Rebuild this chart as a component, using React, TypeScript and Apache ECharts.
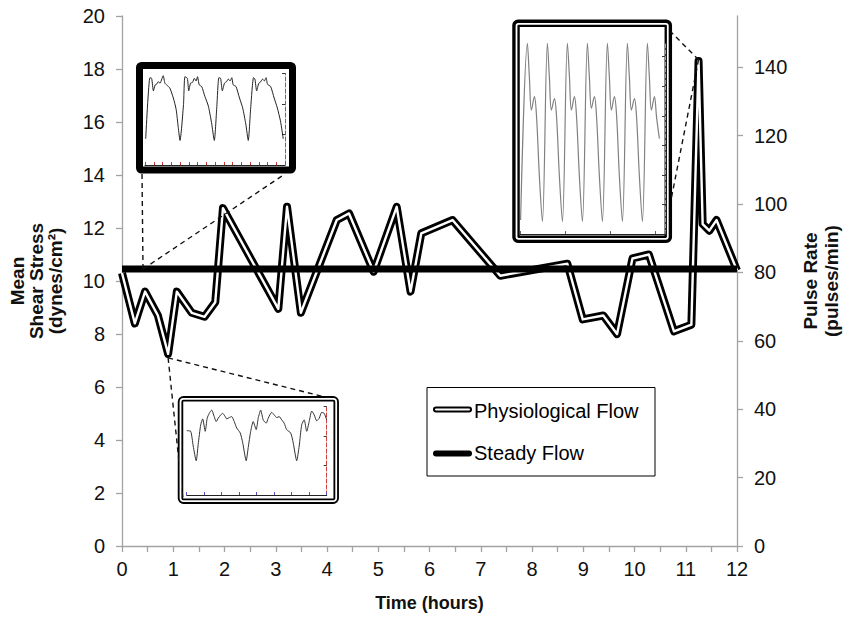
import { useEffect, useRef } from "react";
import * as echarts from "echarts";

// ---- Main chart data ----
const hours = [0, 0.25, 0.45, 0.7, 0.9, 1.07, 1.36, 1.61, 1.82, 1.97, 3.05, 3.22, 3.49, 4.19, 4.43, 4.91, 5.36, 5.63, 5.84, 6.45, 7.38, 8.69, 8.99, 9.39, 9.66, 9.96, 10.28, 10.77, 11.11, 11.25, 11.33, 11.46, 11.6, 12];
const physioShear = [10.3, 8.4, 9.6, 8.7, 7.25, 9.6, 8.8, 8.65, 9.2, 12.75, 8.95, 12.8, 8.8, 12.3, 12.55, 10.35, 12.8, 9.6, 11.8, 12.3, 10.2, 10.65, 8.55, 8.7, 8.0, 10.85, 11.0, 8.1, 8.35, 18.3, 12.15, 11.9, 12.3, 10.4];
const steadyHours = [0, 12];
const steadyShear = [10.45, 10.45];
const pulseTicks = [0, 20, 40, 60, 80, 100, 120, 140];

// ---- Inset waveforms ----
const inset1Time = [0.02, 0.14, 0.19, 0.24, 0.29, 0.33, 0.38, 0.43, 0.48, 0.52, 0.57, 0.62, 0.71, 0.81, 0.89, 0.95, 1.0, 1.1, 1.14, 1.21, 1.25, 1.3, 1.36, 1.41, 1.46, 1.5, 1.55, 1.62, 1.71, 1.81, 1.9, 1.98, 2.05, 2.11, 2.16, 2.21, 2.27, 2.33, 2.38, 2.43, 2.48, 2.52, 2.6, 2.7, 2.79, 2.88, 2.95, 3.02, 3.1, 3.14, 3.19, 3.25, 3.31, 3.36, 3.41, 3.46, 3.5, 3.59, 3.69, 3.78, 3.87, 3.95];
const inset1Signal = [29.1, 97.1, 96.4, 82.5, 89.1, 89.8, 92.7, 90.9, 95.6, 99.3, 90.9, 89.1, 85.5, 74.5, 61.8, 41.8, 27.3, 67.3, 98.2, 96.4, 82.5, 90.9, 92.0, 96.4, 93.5, 98.2, 89.1, 87.3, 76.4, 65.5, 47.3, 27.3, 63.6, 97.1, 96.4, 82.5, 90.9, 92.7, 95.6, 93.5, 97.1, 89.1, 87.3, 74.5, 63.6, 45.5, 27.3, 63.6, 97.1, 95.6, 82.5, 90.9, 92.7, 95.6, 93.5, 97.1, 89.8, 87.3, 74.5, 63.6, 49.1, 29.1];

const inset2Time = [0.0, 0.08, 0.13, 0.19, 0.23, 0.28, 0.32, 0.37, 0.41, 0.45, 0.5, 0.55, 0.59, 0.63, 0.68, 0.72, 0.77, 0.8, 0.85, 0.9, 0.95, 1.0, 1.07, 1.12, 1.19, 1.23, 1.28, 1.33, 1.39, 1.43, 1.48, 1.53, 1.59, 1.63, 1.7, 1.75, 1.8, 1.85, 1.9, 1.95, 2.0, 2.08, 2.13, 2.2, 2.25, 2.3, 2.35, 2.4, 2.45, 2.5, 2.55, 2.6, 2.65, 2.7, 2.75, 2.8];
const inset2Signal = [74.3, 73.6, 56.6, 39.6, 58.5, 81.1, 87.9, 73.6, 88.7, 94.3, 98.1, 90.6, 84.9, 88.7, 92.5, 94.3, 90.6, 87.9, 89.4, 90.6, 84.9, 77.4, 71.7, 60.4, 39.6, 54.7, 73.6, 84.9, 75.5, 88.7, 98.1, 86.8, 83.0, 88.7, 95.5, 92.5, 89.4, 90.6, 86.8, 83.0, 75.5, 71.7, 60.4, 39.6, 56.6, 81.1, 86.8, 73.6, 84.9, 97.0, 92.5, 85.7, 88.7, 95.5, 94.3, 86.8];

const inset3Time = [0.03, 0.37, 0.47, 0.57, 0.72, 0.83, 0.97, 1.12, 1.37, 1.47, 1.57, 1.72, 1.83, 1.97, 2.12, 2.37, 2.47, 2.57, 2.72, 2.83, 2.97, 3.12, 3.37, 3.47, 3.57, 3.72, 3.83, 3.97, 4.12, 4.37, 4.47, 4.57, 4.72, 4.83, 4.97, 5.12, 5.37, 5.47, 5.57, 5.72, 5.83, 5.97, 6.12, 6.37, 6.47, 6.57, 6.72, 6.83, 6.97];
const inset3Signal = [7.3, 100, 82, 65, 72, 61, 30, 6.5, 100, 82, 65, 71, 61, 30, 6.5, 100, 83, 65, 72, 61, 30, 6.5, 100, 82, 66, 72, 61, 30, 6.5, 100, 82, 65, 72, 62, 30, 6.5, 100, 82, 65, 71, 61, 30, 6.5, 100, 82, 65, 72, 61, 50];

const zip = (a: number[], b: number[]) => a.map((v, i) => [v, b[i]]);

const FONT = "'Liberation Sans', Arial, Helvetica, sans-serif";
const AXIS_GRAY = "#a3a3a3";

function insetX(grid: number, max: number, tickColor: string, interval: number) {
  return {
    type: "value", gridIndex: grid, min: 0, max, interval, z: 10,
    axisLine: { show: true, onZero: false, lineStyle: { color: "#222", width: 1 } },
    axisTick: { show: true, inside: true, length: 3, lineStyle: { color: tickColor } },
    axisLabel: { show: false }, splitLine: { show: false },
  };
}
function insetY(grid: number, max: number, ticks: number[], lineColor: string) {
  return {
    type: "value", gridIndex: grid, min: 0, max, position: "right", z: 10,
    axisLine: { show: true, onZero: false, lineStyle: { color: lineColor, width: 1, type: "dashed" } },
    axisTick: { show: true, inside: true, length: 3, customValues: ticks, lineStyle: { color: "#333" } },
    axisLabel: { show: false }, splitLine: { show: false },
  };
}

export default function App() {
  const ref = useRef<HTMLDivElement>(null);
  useEffect(() => {
    const chart = echarts.init(ref.current!, null, { renderer: "svg" });
    const option: any = {
      animation: false,
      backgroundColor: "#fff",
      textStyle: { fontFamily: FONT },
      grid: [
        { left: 121, right: 102, top: 16, bottom: 76 },
        { left: 145, top: 73.3, width: 140, height: 91.7 },
        { left: 186.7, top: 406.7, width: 140, height: 88.3 },
        { left: 520, top: 43.3, width: 145, height: 190.7 },
      ],
      xAxis: [
        {
          type: "value", gridIndex: 0, min: 0, max: 12, interval: 1,
          axisLine: { show: true, onZero: false, lineStyle: { color: AXIS_GRAY, width: 1.3 } },
          axisTick: { show: true, length: 6, lineStyle: { color: AXIS_GRAY, width: 1.3 } },
          minorTick: { show: true, splitNumber: 2, length: 6, lineStyle: { color: AXIS_GRAY, width: 1.3 } },
          splitLine: { show: false },
          axisLabel: { fontSize: 20, color: "#111", margin: 13, fontFamily: FONT },
          name: "Time (hours)", nameLocation: "middle", nameGap: 48,
          nameTextStyle: { fontSize: 18, fontWeight: "bold", color: "#111", fontFamily: FONT },
        },
        insetX(1, 4, "#d03030", 0.25),
        insetX(2, 2.8, "#5050c0", 0.35),
        insetX(3, 7.25, "#666", 2.25),
      ],
      yAxis: [
        {
          type: "value", gridIndex: 0, min: 0, max: 20, interval: 2, position: "left",
          axisLine: { show: true, onZero: false, lineStyle: { color: AXIS_GRAY, width: 1.3 } },
          axisTick: { show: true, length: 6, lineStyle: { color: AXIS_GRAY, width: 1.3 } },
          splitLine: { show: false },
          axisLabel: { fontSize: 20, color: "#111", margin: 17, fontFamily: FONT },
          name: "Mean\nShear Stress\n(dynes/cm²)", nameLocation: "middle", nameRotate: 90, nameGap: 57,
          nameTextStyle: { fontSize: 19, fontWeight: "bold", color: "#111", lineHeight: 19, fontFamily: FONT },
        },
        {
          type: "value", gridIndex: 0, min: 0, max: 155, position: "right",
          axisLine: { show: true, onZero: false, lineStyle: { color: AXIS_GRAY, width: 1.3 } },
          axisTick: { show: true, length: 6, customValues: pulseTicks, lineStyle: { color: AXIS_GRAY, width: 1.3 } },
          splitLine: { show: false },
          axisLabel: { fontSize: 20, color: "#111", margin: 17, customValues: pulseTicks, fontFamily: FONT },
          name: "Pulse Rate\n(pulses/min)", nameLocation: "middle", nameRotate: 90, nameGap: 63,
          nameTextStyle: { fontSize: 19, fontWeight: "bold", color: "#111", lineHeight: 21, fontFamily: FONT },
        },
        insetY(1, 102, [34, 68, 102], "#d04040"),
        insetY(2, 102, [34, 68, 102], "#d04040"),
        insetY(3, 100, [15.5, 31, 46.5, 62, 77.5, 93], "#999"),
      ],
      series: [
        {
          name: "Physiological Flow", type: "line", xAxisIndex: 0, yAxisIndex: 0,
          data: zip(hours, physioShear), symbol: "none", z: 2,
          lineStyle: { color: "#000", width: 8, join: "round" },
        },
        {
          name: "Physiological Flow inner", type: "line", xAxisIndex: 0, yAxisIndex: 0,
          data: zip(hours, physioShear), symbol: "none", z: 3,
          lineStyle: { color: "#fff", width: 2.4, join: "round" },
        },
        {
          name: "Steady Flow", type: "line", xAxisIndex: 0, yAxisIndex: 0,
          data: zip(steadyHours, steadyShear), symbol: "none", z: 4,
          lineStyle: { color: "#000", width: 7 },
          markLine: {
            silent: true, symbol: ["none", "none"], label: { show: false },
            lineStyle: { color: "#111", width: 1.4, type: [5, 4] },
            data: [
              [{ coord: [0.41, 10.45] }, { x: 142, y: 173 }],
              [{ coord: [0.41, 10.45] }, { x: 285, y: 174 }],
              [{ coord: [0.9, 7.1] }, { x: 333, y: 399 }],
              [{ coord: [0.9, 7.1] }, { x: 183, y: 500 }],
              [{ coord: [11.25, 18.35] }, { x: 671, y: 32 }],
              [{ coord: [11.25, 18.35] }, { x: 671, y: 200 }],
            ],
          },
        },
        {
          type: "line", xAxisIndex: 1, yAxisIndex: 2, data: zip(inset1Time, inset1Signal),
          symbol: "none", z: 12, smooth: 0.2, lineStyle: { color: "#222", width: 1 },
        },
        {
          type: "line", xAxisIndex: 2, yAxisIndex: 3, data: zip(inset2Time, inset2Signal),
          symbol: "none", z: 12, smooth: 0.2, lineStyle: { color: "#333", width: 1 },
        },
        {
          type: "line", xAxisIndex: 3, yAxisIndex: 4, data: zip(inset3Time, inset3Signal),
          symbol: "none", z: 12, smooth: 0.35, lineStyle: { color: "#808080", width: 1.2 },
        },
      ],
      graphic: {
        elements: [
          // inset frames
          { type: "rect", z: 5, shape: { x: 139.5, y: 65.5, width: 153, height: 104.5, r: 2 }, style: { fill: "#fff", stroke: "#000", lineWidth: 7 } },
          { type: "rect", z: 5, shape: { x: 180.5, y: 398.8, width: 155.7, height: 102.4, r: 3 }, style: { fill: "#fff", stroke: "#000", lineWidth: 5.5 } },
          { type: "rect", z: 6, shape: { x: 180.5, y: 398.8, width: 155.7, height: 102.4, r: 3 }, style: { fill: "none", stroke: "#fff", lineWidth: 1.8 } },
          { type: "rect", z: 5, shape: { x: 516, y: 23.3, width: 152.3, height: 216, r: 2 }, style: { fill: "#fff", stroke: "#000", lineWidth: 7.5 } },
          { type: "rect", z: 6, shape: { x: 516.5, y: 23.8, width: 151.3, height: 215, r: 2 }, style: { fill: "none", stroke: "#fff", lineWidth: 1.8 } },
          // legend
          { type: "rect", z: 5, shape: { x: 427, y: 387.5, width: 228, height: 88.5 }, style: { fill: "#fff", stroke: "#000", lineWidth: 1 } },
          { type: "line", z: 6, shape: { x1: 436, y1: 409.5, x2: 469, y2: 409.5 }, style: { stroke: "#000", lineWidth: 6, lineCap: "round" } },
          { type: "line", z: 7, shape: { x1: 436, y1: 409.5, x2: 469, y2: 409.5 }, style: { stroke: "#fff", lineWidth: 2, lineCap: "round" } },
          { type: "text", z: 7, x: 474, y: 410.5, style: { text: "Physiological Flow", fontSize: 20, fontFamily: FONT, fill: "#000", align: "left", verticalAlign: "middle" } },
          { type: "line", z: 6, shape: { x1: 436, y1: 453.5, x2: 469, y2: 453.5 }, style: { stroke: "#000", lineWidth: 6, lineCap: "round" } },
          { type: "text", z: 7, x: 474, y: 453, style: { text: "Steady Flow", fontSize: 20, fontFamily: FONT, fill: "#000", align: "left", verticalAlign: "middle" } },
        ],
      },
    };
    chart.setOption(option);
    return () => chart.dispose();
  }, []);
  return <div ref={ref} style={{ position: "fixed", left: 0, top: 0, width: 850, height: 622, background: "#fff" }} />;
}
